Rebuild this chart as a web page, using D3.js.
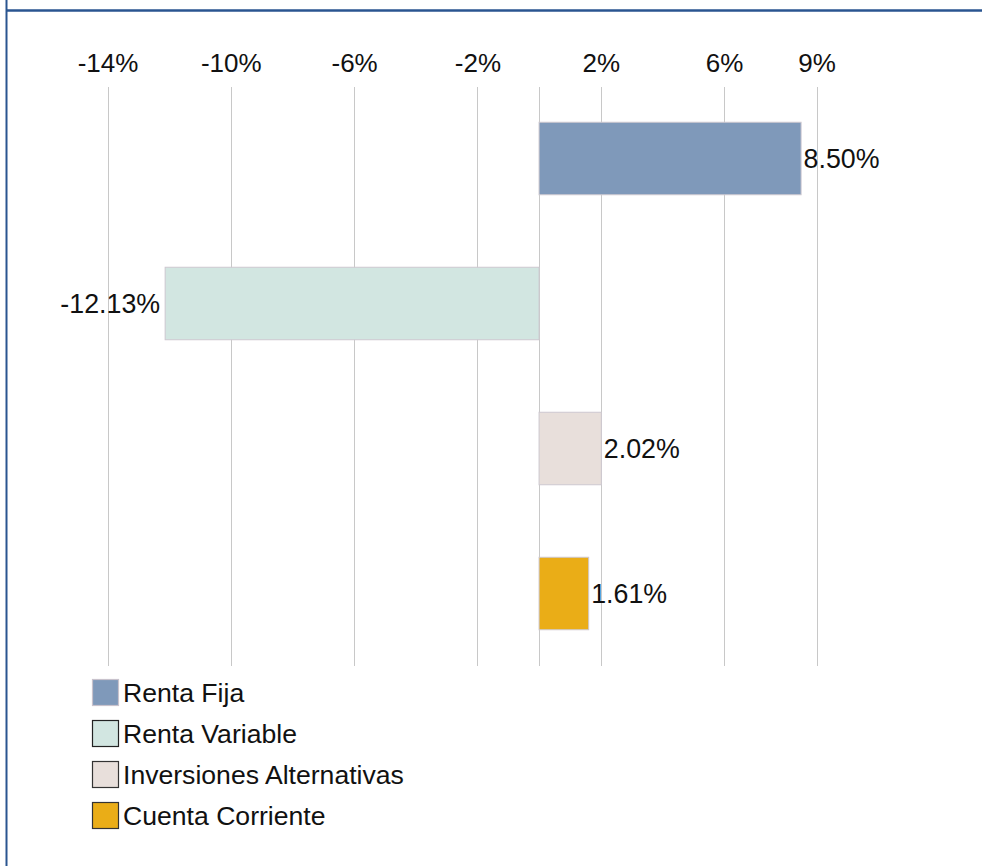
<!DOCTYPE html>
<html>
<head>
<meta charset="utf-8">
<script src="https://cdn.jsdelivr.net/npm/d3@7"></script>
<style>
  html, body { margin: 0; padding: 0; background: #ffffff; }
  svg { display: block; }
  text { font-family: "Liberation Sans", Arial, sans-serif; fill: #111; }
</style>
</head>
<body>
<svg id="chart" width="982" height="866"></svg>
<script>
const categories = ["Renta Fija", "Renta Variable", "Inversiones Alternativas", "Cuenta Corriente"];
const values = [8.50, -12.13, 2.02, 1.61];
const colors = ["#7f99ba", "#d2e6e1", "#e8dfdb", "#eaad17"];
const legendStrokes = ["#c8c2cc", "#222222", "#333333", "#333333"];
const tickValues = [-14, -10, -6, -2, 2, 6, 9];
const gridValues = [-14, -10, -6, -2, 0, 2, 6, 9];

const svg = d3.select("#chart");

// frame
svg.append("line").attr("x1", 6.5).attr("x2", 6.5).attr("y1", 0).attr("y2", 866)
  .attr("stroke", "#2a5590").attr("stroke-width", 2);
svg.append("line").attr("x1", 6).attr("x2", 982).attr("y1", 10.5).attr("y2", 10.5)
  .attr("stroke", "#2a5590").attr("stroke-width", 2.5);

const x = d3.scaleLinear().domain([-14, 9]).range([107.5, 816.5]);
const y = d3.scaleBand().domain(categories).range([86, 666]).paddingInner(0.5).paddingOuter(0.25);

// grid
svg.append("g").selectAll("line").data(gridValues).join("line")
  .attr("x1", d => Math.round(x(d)) + 0.5).attr("x2", d => Math.round(x(d)) + 0.5)
  .attr("y1", 87).attr("y2", 666)
  .attr("stroke", "#c8c8c8").attr("stroke-width", 1);

// tick labels via axis
const axis = d3.axisTop(x).tickValues(tickValues).tickSize(0).tickPadding(0)
  .tickFormat(d => d + "%");
const ag = svg.append("g").attr("transform", "translate(0,72)").call(axis);
ag.select(".domain").remove();
ag.selectAll("text").attr("font-size", 26).attr("fill", "#111")
  .attr("font-family", "Liberation Sans, Arial, sans-serif")
  .attr("dy", 0).attr("y", 0);

// bars
const bars = svg.append("g");
bars.selectAll("rect").data(values).join("rect")
  .attr("x", d => x(Math.min(0, d)))
  .attr("width", d => Math.abs(x(d) - x(0)))
  .attr("y", (d, i) => y(categories[i]))
  .attr("height", y.bandwidth())
  .attr("fill", (d, i) => colors[i])
  .attr("stroke", "#cdc8d0").attr("stroke-width", 1);

// value labels
svg.append("g").selectAll("text").data(values).join("text")
  .attr("x", d => d >= 0 ? x(d) + 2.5 : x(d) - 5)
  .attr("y", (d, i) => y(categories[i]) + y.bandwidth() / 2)
  .attr("dy", "0.36em")
  .attr("text-anchor", d => d >= 0 ? "start" : "end")
  .attr("font-size", 26.8)
  .text(d => d.toFixed(2) + "%");

// legend
const lg = svg.append("g");
const items = lg.selectAll("g").data(categories).join("g")
  .attr("transform", (d, i) => `translate(92.5, ${679.5 + i * 41})`);
items.append("rect").attr("width", 26).attr("height", 26)
  .attr("fill", (d, i) => colors[i])
  .attr("stroke", (d, i) => legendStrokes[i]).attr("stroke-width", 1.2);
items.append("text").attr("x", 30.5).attr("y", 22).attr("font-size", 26.6).text(d => d);
</script>
</body>
</html>
